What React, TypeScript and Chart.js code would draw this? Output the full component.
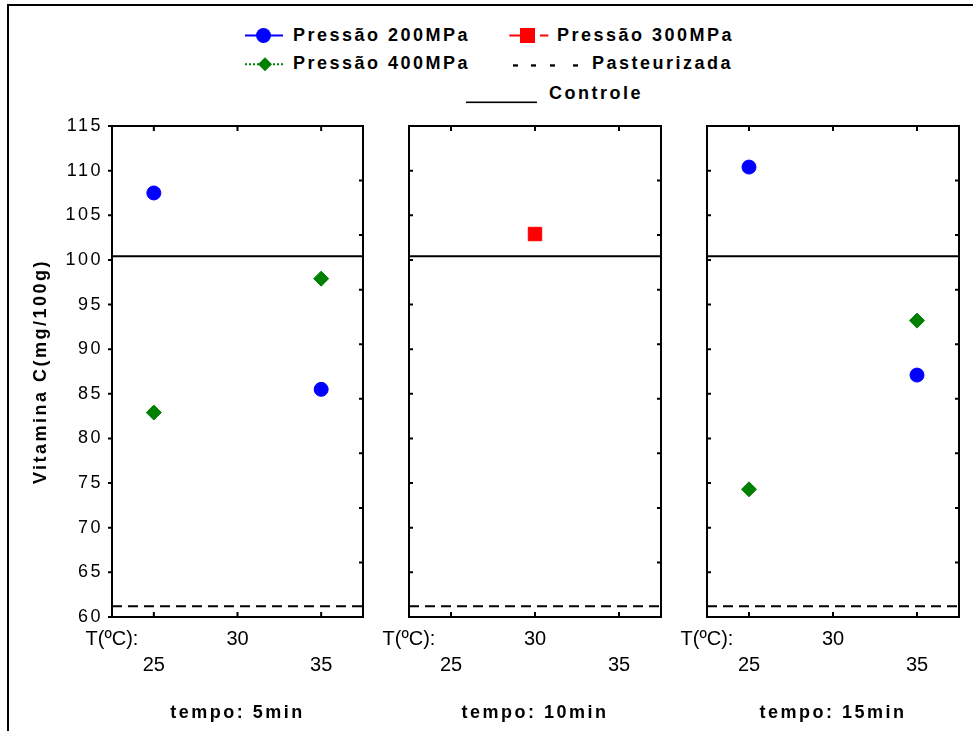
import React, { useEffect, useRef } from 'react';
import { Chart, registerables } from 'chart.js';

Chart.register(...registerables);

// ---------- data ----------
const tempos = ['tempo: 5min', 'tempo: 10min', 'tempo: 15min'];
const temperaturas = [25, 30, 35];
const tempAxisLabel = 'T(ºC):';
const yTitle = 'Vitamina C(mg/100g)';
// values per panel (tempo), one per temperature (null = not measured)
const pressao200 = [[107.5, null, 85.5], [null, null, null], [110.4, null, 87.1]];
const pressao300 = [[null, null, null], [null, 102.9, null], [null, null, null]];
const pressao400 = [[82.9, null, 97.9], [null, null, null], [74.3, null, 93.2]];
const pasteurizada = 61.2;
const controle = 100.4;
const yTickValues = [60, 65, 70, 75, 80, 85, 90, 95, 100, 105, 110, 115];
const rightTickValues = [0, 1, 2, 3, 4, 5, 6, 7, 8, 9];
const xMin = 22.5;
const xMax = 37.5;

// ---------- styling ----------
const FONT = "'Liberation Sans', Arial, sans-serif";
const panelBoxes = [
  { left: 0, width: 385, padLeft: 0, padRight: 22, showY: true },
  { left: 363, width: 320, padLeft: 46, padRight: 22, showY: false },
  { left: 661, width: 312, padLeft: 46, padRight: 14, showY: false },
];

const xTickValues = [xMin, ...temperaturas];
function xLabel(v: number): string[] {
  if (v === xMin) return [tempAxisLabel, ''];
  const i = temperaturas.indexOf(v);
  return i % 2 === 0 ? ['', String(v)] : [String(v), ''];
}

function toPoints(vals: (number | null)[]) {
  const out: { x: number; y: number }[] = [];
  temperaturas.forEach((t, i) => {
    const v = vals[i];
    if (v !== null && v !== undefined) out.push({ x: t, y: v });
  });
  return out;
}

const spacingPlugin = {
  id: 'letterSpacing',
  beforeDraw(chart: any) {
    chart.ctx.letterSpacing = '2.5px';
  },
  afterDatasetsDraw(chart: any) {
    chart.ctx.letterSpacing = '0px';
  },
  afterDraw(chart: any) {
    chart.ctx.letterSpacing = '0px';
  },
};

const framePlugin = {
  id: 'panelFrame',
  afterDraw(chart: any, _args: any, opts: any) {
    const { ctx, chartArea } = chart;
    const { left, right, top, bottom } = chartArea;
    const xs = chart.scales.x;
    const ys = chart.scales.y;
    const y2 = chart.scales.y2;
    ctx.save();
    ctx.strokeStyle = '#000';
    ctx.lineWidth = 2;
    ctx.strokeRect(left, top, right - left, bottom - top);
    ctx.beginPath();
    temperaturas.forEach((t) => {
      const x = xs.getPixelForValue(t);
      ctx.moveTo(x, bottom);
      ctx.lineTo(x, bottom - 5);
      ctx.moveTo(x, top);
      ctx.lineTo(x, top + 5);
    });
    yTickValues.forEach((v) => {
      const y = ys.getPixelForValue(v);
      if (opts && opts.outwardLeft) {
        ctx.moveTo(left - 4, y);
        ctx.lineTo(left, y);
      } else {
        ctx.moveTo(left, y);
        ctx.lineTo(left + 4, y);
      }
    });
    rightTickValues.forEach((v) => {
      const y = y2.getPixelForValue(v);
      ctx.moveTo(right, y);
      ctx.lineTo(right - 4, y);
    });
    ctx.stroke();
    ctx.restore();
  },
};

function Panel({ index }: { index: number }) {
  const ref = useRef<HTMLCanvasElement | null>(null);
  const box = panelBoxes[index];

  useEffect(() => {
    if (!ref.current) return;
    const datasets: any[] = [
      {
        label: 'Pressão 200MPa',
        data: toPoints(pressao200[index]),
        showLine: false,
        pointStyle: 'circle',
        pointRadius: 7,
        pointBorderWidth: 1,
        pointBackgroundColor: '#0000ff',
        pointBorderColor: '#0000ff',
        borderColor: '#0000ff',
        backgroundColor: '#0000ff',
      },
      {
        label: 'Pressão 300MPa',
        data: toPoints(pressao300[index]),
        showLine: false,
        pointStyle: 'rect',
        pointRadius: 9.5,
        pointBorderWidth: 1,
        pointBackgroundColor: '#ff0000',
        pointBorderColor: '#ff0000',
        borderColor: '#ff0000',
        backgroundColor: '#ff0000',
      },
      {
        label: 'Pressão 400MPa',
        data: toPoints(pressao400[index]),
        showLine: false,
        pointStyle: 'rectRot',
        pointRadius: 7.5,
        pointBorderWidth: 1,
        pointBackgroundColor: '#008000',
        pointBorderColor: '#008000',
        borderColor: '#008000',
        backgroundColor: '#008000',
      },
      {
        label: 'Pasteurizada',
        data: [{ x: xMin, y: pasteurizada }, { x: xMax, y: pasteurizada }],
        showLine: true,
        borderColor: '#000',
        borderWidth: 2,
        borderDash: [10, 6],
        pointRadius: 0,
      },
      {
        label: 'Controle',
        data: [{ x: xMin, y: controle }, { x: xMax, y: controle }],
        showLine: true,
        borderColor: '#000',
        borderWidth: 2,
        pointRadius: 0,
      },
    ];

    const chart = new Chart(ref.current, {
      type: 'scatter',
      data: { datasets },
      options: {
        animation: false,
        responsive: false,
        maintainAspectRatio: false,
        events: [],
        layout: { padding: { left: box.padLeft, right: box.padRight, top: 126, bottom: 0 } },
        plugins: {
          legend: { display: false },
          tooltip: { enabled: false },
          title: { display: false },
          panelFrame: { outwardLeft: box.showY },
        } as any,
        scales: {
          x: {
            type: 'linear',
            position: 'bottom',
            min: xMin,
            max: xMax,
            afterBuildTicks: (s: any) => {
              s.ticks = xTickValues.map((v) => ({ value: v }));
            },
            afterFit: (s: any) => {
              s.height = 114;
            },
            grid: { display: false, drawTicks: false },
            border: { display: false },
            ticks: {
              z: 1,
              padding: 9,
              autoSkip: false,
              maxRotation: 0,
              minRotation: 0,
              color: '#000',
              font: { family: FONT, size: 20, lineHeight: '26px' },
              callback: (v: any) => xLabel(Number(v)),
            },
            title: {
              display: true,
              text: tempos[index],
              color: '#000',
              font: { family: FONT, size: 18, weight: 'bold', lineHeight: 1.2 },
              padding: { top: 0, bottom: 7 },
            },
          } as any,
          y: {
            type: 'linear',
            position: 'left',
            display: box.showY,
            min: yTickValues[0],
            max: yTickValues[yTickValues.length - 1],
            afterBuildTicks: (s: any) => {
              s.ticks = yTickValues.map((v) => ({ value: v }));
            },
            afterFit: (s: any) => {
              s.width = box.showY ? 112 : 0;
            },
            grid: { display: false, drawTicks: false },
            border: { display: false },
            ticks: {
              z: 0,
              padding: 9,
              color: '#000',
              font: { family: FONT, size: 18 },
            },
            title: {
              display: true,
              text: yTitle,
              color: '#000',
              font: { family: FONT, size: 18, weight: 'bold', lineHeight: 1.2 },
              padding: { top: 30, bottom: 0 },
            },
          } as any,
          y2: {
            type: 'linear',
            position: 'right',
            display: false,
            min: rightTickValues[0],
            max: rightTickValues[rightTickValues.length - 1],
            afterFit: (s: any) => {
              s.width = 0;
            },
          } as any,
        },
      },
      plugins: [spacingPlugin, framePlugin],
    });
    return () => chart.destroy();
  }, [index]);

  return (
    <canvas
      ref={ref}
      width={box.width}
      height={731}
      style={{ position: 'absolute', left: box.left, top: 0, width: box.width, height: 731 }}
    />
  );
}

const legendText: React.CSSProperties = {
  position: 'absolute',
  fontFamily: FONT,
  fontWeight: 'bold',
  fontSize: 18,
  lineHeight: '21px',
  letterSpacing: '2.5px',
  color: '#000',
  whiteSpace: 'nowrap',
};

function Legend() {
  return (
    <div>
      <svg style={{ position: 'absolute', left: 244, top: 26 }} width={41} height={20}>
        <line x1={1} y1={9.5} x2={39} y2={9.5} stroke="#0000ff" strokeWidth={2} />
        <circle cx={19.5} cy={9.5} r={7.5} fill="#0000ff" />
      </svg>
      <div style={{ ...legendText, left: 293, top: 24.5 }}>Pressão 200MPa</div>

      <svg style={{ position: 'absolute', left: 508, top: 26 }} width={42} height={20}>
        <line x1={1.3} y1={9.5} x2={12} y2={9.5} stroke="#ff0000" strokeWidth={2} />
        <rect x={12} y={2} width={15} height={15} fill="#ff0000" />
        <line x1={32} y1={9.5} x2={40.3} y2={9.5} stroke="#ff0000" strokeWidth={2} />
      </svg>
      <div style={{ ...legendText, left: 557, top: 24.5 }}>Pressão 300MPa</div>

      <svg style={{ position: 'absolute', left: 244, top: 55 }} width={41} height={20}>
        <line x1={1} y1={9.3} x2={39} y2={9.3} stroke="#008000" strokeWidth={2} strokeDasharray="2 2" />
        <polygon points="21,2.3 28,9.3 21,16.3 14,9.3" fill="#008000" />
      </svg>
      <div style={{ ...legendText, left: 293, top: 52.8 }}>Pressão 400MPa</div>

      <svg style={{ position: 'absolute', left: 510, top: 60 }} width={72} height={10}>
        <rect x={3} y={4.3} width={5} height={2.3} fill="#000" />
        <rect x={21} y={4.3} width={5} height={2.3} fill="#000" />
        <rect x={40} y={4.3} width={5} height={2.3} fill="#000" />
        <rect x={63} y={4.3} width={5} height={2.3} fill="#000" />
      </svg>
      <div style={{ ...legendText, left: 592, top: 52.8 }}>Pasteurizada</div>

      <svg style={{ position: 'absolute', left: 464, top: 97 }} width={76} height={10}>
        <rect x={2} y={4.5} width={71} height={1.6} fill="#000" />
      </svg>
      <div style={{ ...legendText, left: 549, top: 82.5 }}>Controle</div>
    </div>
  );
}

export default function App() {
  return (
    <div style={{ position: 'absolute', left: 0, top: 0, width: 973, height: 731, overflow: 'hidden', background: '#fff' }}>
      <div
        style={{
          position: 'absolute',
          left: 7,
          top: 4,
          width: 966,
          height: 727,
          boxSizing: 'border-box',
          borderTop: '2px solid #000',
          borderLeft: '2px solid #000',
        }}
      />
      <Legend />
      <Panel index={0} />
      <Panel index={1} />
      <Panel index={2} />
    </div>
  );
}
